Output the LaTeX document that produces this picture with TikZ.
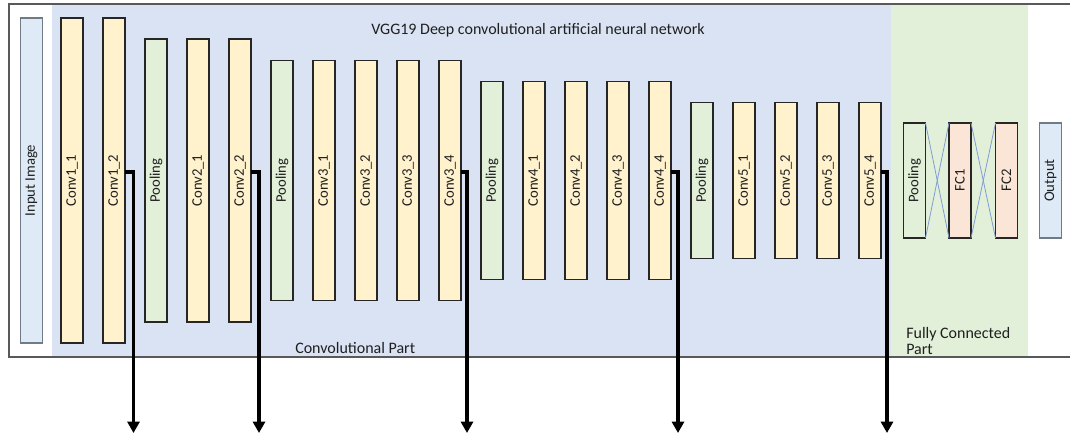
\documentclass[tikz,border=0pt]{standalone}
\usepackage{fontspec}
\setmainfont{Carlito}
\usetikzlibrary{arrows.meta,calc}
\definecolor{convregion}{HTML}{DAE3F3}
\definecolor{fcregion}{HTML}{E2F0D9}
\definecolor{convfill}{HTML}{FFF2CC}
\definecolor{poolfill}{HTML}{E2F0D9}
\definecolor{iofill}{HTML}{DEEBF7}
\definecolor{fcfill}{HTML}{FBE5D6}
\definecolor{linkblue}{HTML}{7F9CD4}
\definecolor{framegray}{HTML}{595959}
\definecolor{iogray}{HTML}{6F7B87}
\definecolor{txt}{HTML}{1F1F1F}
\newcommand\vtext[1]{\rotatebox{90}{#1}}

\begin{document}
\begin{tikzpicture}[x=0.75pt,y=-0.75pt,
  font=\fontsize{11}{13}\selectfont, text=txt,
  layerbox/.style={line width=0.9pt, inner sep=0pt, outer sep=0pt,
    minimum width=22*0.75pt},
  conv/.style={layerbox, draw=black!85, fill=convfill},
  pool/.style={layerbox, draw=black!85, fill=poolfill},
  fc/.style={layerbox, draw=black!85, fill=fcfill},
  io/.style={layerbox, draw=iogray, fill=iofill},
  tall/.style={minimum height=#1*0.75pt},
  caption/.style={font=\fontsize{12}{11.3}\selectfont},
  tap/.style={line width=2.5pt, -{Triangle[width=9pt,length=8.5pt]}},
  link/.style={draw=linkblue, line width=0.6pt}
]
\useasboundingbox (0,0) rectangle (1070,434);

% background regions and frame
\fill[convregion] (52,5) rectangle (891,357);
\fill[fcregion] (891,5) rectangle (1028,357);
\draw[framegray, line width=0.8pt] (1070,4) -- (9,4) -- (9,357) -- (1070,357);

% titles
\node[caption] (title) at (538,30) {VGG19 Deep convolutional artificial neural network};
\node[caption, anchor=west, inner sep=0pt] (convpart) at (295,348) {Convolutional Part};
\node[caption, anchor=west, align=left, inner sep=0pt]
  (fcpart) at (906,341) {Fully Connected\\Part};

% input
\node[io, tall=325] (in) at (31.5,180.5) {\vtext{Input Image}};

% block 1
\node[conv, tall=325] (c11) at (72,180.5) {\vtext{Conv1\_1}};
\node[conv, tall=325] (c12) at (114,180.5) {\vtext{Conv1\_2}};
\node[pool, tall=283] (p1) at (156,180.5) {\vtext{Pooling}};
% block 2
\node[conv, tall=283] (c21) at (198,180.5) {\vtext{Conv2\_1}};
\node[conv, tall=283] (c22) at (240,180.5) {\vtext{Conv2\_2}};
\node[pool, tall=240] (p2) at (282,180.5) {\vtext{Pooling}};
% block 3
\node[conv, tall=240] (c31) at (324,180.5) {\vtext{Conv3\_1}};
\node[conv, tall=240] (c32) at (366,180.5) {\vtext{Conv3\_2}};
\node[conv, tall=240] (c33) at (408,180.5) {\vtext{Conv3\_3}};
\node[conv, tall=240] (c34) at (450,180.5) {\vtext{Conv3\_4}};
\node[pool, tall=198] (p3) at (492,180.5) {\vtext{Pooling}};
% block 4
\node[conv, tall=198] (c41) at (534,180.5) {\vtext{Conv4\_1}};
\node[conv, tall=198] (c42) at (576,180.5) {\vtext{Conv4\_2}};
\node[conv, tall=198] (c43) at (618,180.5) {\vtext{Conv4\_3}};
\node[conv, tall=198] (c44) at (660,180.5) {\vtext{Conv4\_4}};
\node[pool, tall=156] (p4) at (702,180.5) {\vtext{Pooling}};
% block 5
\node[conv, tall=156] (c51) at (744,180.5) {\vtext{Conv5\_1}};
\node[conv, tall=156] (c52) at (786,180.5) {\vtext{Conv5\_2}};
\node[conv, tall=156] (c53) at (828,180.5) {\vtext{Conv5\_3}};
\node[conv, tall=156] (c54) at (870,180.5) {\vtext{Conv5\_4}};

% fully connected part
\node[pool, tall=115] (p5) at (914.5,180.5) {\vtext{Pooling}};
\node[fc, tall=115] (fc1) at (960,180.5) {\vtext{FC1}};
\node[fc, tall=115] (fc2) at (1006.5,180.5) {\vtext{FC2}};
\node[io, tall=115] (out) at (1050.5,180.5) {\vtext{Output}};

\draw[link] (p5.north east) -- (fc1.south west);
\draw[link] (p5.south east) -- (fc1.north west);
\draw[link] (fc1.north east) -- (fc2.south west);
\draw[link] (fc1.south east) -- (fc2.north west);

% feature taps
\coordinate (t1) at (133.5,433);
\coordinate (t2) at (259,433);
\coordinate (t3) at (467,433);
\coordinate (t4) at (678,433);
\coordinate (t5) at (887,433);
\draw[tap] ($(c12.east)+(0,-8.5)$) -| (t1);
\draw[tap] ($(c22.east)+(0,-8.5)$) -| (t2);
\draw[tap] ($(c34.east)+(0,-8.5)$) -| (t3);
\draw[tap] ($(c44.east)+(0,-8.5)$) -| (t4);
\draw[tap] ($(c54.east)+(0,-8.5)$) -| (t5);
\end{tikzpicture}
\end{document}
